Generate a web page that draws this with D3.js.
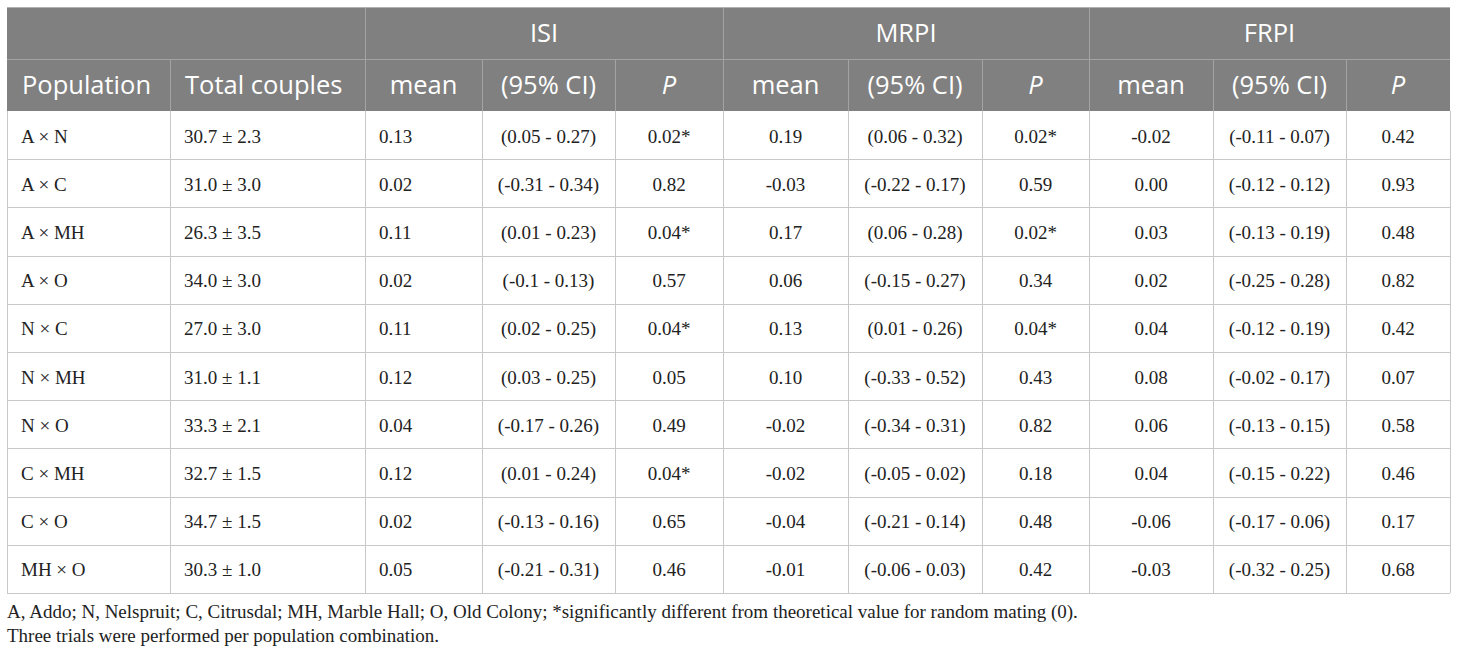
<!DOCTYPE html>
<html>
<head>
<meta charset="utf-8">
<script src="https://cdn.jsdelivr.net/npm/d3@7"></script>
<style>
  body { margin: 0; background: #ffffff; }
  .head { font-family: "Open Sans", sans-serif; fill: #ffffff; font-size: 25.5px; }
  .cell { font-family: "Liberation Serif", "Times New Roman", serif; fill: #222222; font-size: 19px; }
  .note { font-family: "Liberation Serif", "Times New Roman", serif; fill: #222222; font-size: 19px; }
</style>
</head>
<body>
<div id="table"></div>
<script>
var populations = ["A × N", "A × C", "A × MH", "A × O", "N × C", "N × MH", "N × O", "C × MH", "C × O", "MH × O"];
var totals = ["30.7 ± 2.3", "31.0 ± 3.0", "26.3 ± 3.5", "34.0 ± 3.0", "27.0 ± 3.0", "31.0 ± 1.1", "33.3 ± 2.1", "32.7 ± 1.5", "34.7 ± 1.5", "30.3 ± 1.0"];

var isiMean = ["0.13", "0.02", "0.11", "0.02", "0.11", "0.12", "0.04", "0.12", "0.02", "0.05"];
var isiCI = ["(0.05 - 0.27)", "(-0.31 - 0.34)", "(0.01 - 0.23)", "(-0.1 - 0.13)", "(0.02 - 0.25)", "(0.03 - 0.25)", "(-0.17 - 0.26)", "(0.01 - 0.24)", "(-0.13 - 0.16)", "(-0.21 - 0.31)"];
var isiP = ["0.02*", "0.82", "0.04*", "0.57", "0.04*", "0.05", "0.49", "0.04*", "0.65", "0.46"];

var mrpiMean = ["0.19", "-0.03", "0.17", "0.06", "0.13", "0.10", "-0.02", "-0.02", "-0.04", "-0.01"];
var mrpiCI = ["(0.06 - 0.32)", "(-0.22 - 0.17)", "(0.06 - 0.28)", "(-0.15 - 0.27)", "(0.01 - 0.26)", "(-0.33 - 0.52)", "(-0.34 - 0.31)", "(-0.05 - 0.02)", "(-0.21 - 0.14)", "(-0.06 - 0.03)"];
var mrpiP = ["0.02*", "0.59", "0.02*", "0.34", "0.04*", "0.43", "0.82", "0.18", "0.48", "0.42"];

var frpiMean = ["-0.02", "0.00", "0.03", "0.02", "0.04", "0.08", "0.06", "0.04", "-0.06", "-0.03"];
var frpiCI = ["(-0.11 - 0.07)", "(-0.12 - 0.12)", "(-0.13 - 0.19)", "(-0.25 - 0.28)", "(-0.12 - 0.19)", "(-0.02 - 0.17)", "(-0.13 - 0.15)", "(-0.15 - 0.22)", "(-0.17 - 0.06)", "(-0.32 - 0.25)"];
var frpiP = ["0.42", "0.93", "0.48", "0.82", "0.42", "0.07", "0.58", "0.46", "0.17", "0.68"];

var groups = ["ISI", "MRPI", "FRPI"];
var subHeads = ["Population", "Total couples", "mean", "(95% CI)", "P", "mean", "(95% CI)", "P", "mean", "(95% CI)", "P"];
var notes = [
  "A, Addo; N, Nelspruit; C, Citrusdal; MH, Marble Hall; O, Old Colony; *significantly different from theoretical value for random mating (0).",
  "Three trials were performed per population combination."
];

var columns = [populations, totals, isiMean, isiCI, isiP, mrpiMean, mrpiCI, mrpiP, frpiMean, frpiCI, frpiP];

// column edges and alignment (layout only)
var edges = [7, 170, 365, 482, 615, 723, 848, 982, 1089, 1213, 1346, 1450];
var leftAligned = [true, true, true, false, false, false, false, false, false, false, false];

var svgWidth = 1460;
var svgHeight = 655;
var top1 = 7, top2 = 59, top3 = 111, bottom = 593;

var svg = d3.select("#table")
  .append("svg")
  .attr("width", svgWidth)
  .attr("height", svgHeight);

var colIdx = d3.range(columns.length);
var x0 = d3.scaleOrdinal().domain(colIdx).range(edges.slice(0, -1));
var x1 = d3.scaleOrdinal().domain(colIdx).range(edges.slice(1));

var y = d3.scaleBand()
  .domain(populations)
  .range([top3, bottom]);

// header background
svg.append("rect")
  .attr("x", edges[0])
  .attr("y", top1)
  .attr("width", edges[edges.length - 1] - edges[0])
  .attr("height", top3 - top1)
  .attr("fill", "#808080");

// header grid lines
var headLines = svg.append("g")
  .attr("stroke", "#a3a3a3")
  .attr("stroke-width", 1)
  .attr("shape-rendering", "crispEdges");

headLines.append("line")
  .attr("x1", edges[0]).attr("x2", edges[edges.length - 1])
  .attr("y1", top2 + 0.5).attr("y2", top2 + 0.5);

headLines.selectAll("line.v1")
  .data([2, 5, 8])
  .enter()
  .append("line")
  .attr("class", "v1")
  .attr("x1", d => edges[d] + 0.5).attr("x2", d => edges[d] + 0.5)
  .attr("y1", top1).attr("y2", top3);

headLines.selectAll("line.v2")
  .data([1, 3, 4, 6, 7, 9, 10])
  .enter()
  .append("line")
  .attr("class", "v2")
  .attr("x1", d => edges[d] + 0.5).attr("x2", d => edges[d] + 0.5)
  .attr("y1", top2).attr("y2", top3);

// group headers
svg.selectAll("text.group")
  .data(groups)
  .enter()
  .append("text")
  .attr("class", "head group")
  .attr("x", (d, i) => (edges[2 + i * 3] + edges[5 + i * 3]) / 2)
  .attr("y", (top1 + top2) / 2 + 9)
  .attr("text-anchor", "middle")
  .text(d => d);

// sub headers
svg.selectAll("text.sub")
  .data(subHeads)
  .enter()
  .append("text")
  .attr("class", "head sub")
  .attr("x", (d, i) => i < 2 ? x0(i) + 15 : (x0(i) + x1(i)) / 2)
  .attr("y", (top2 + top3) / 2 + 9)
  .attr("text-anchor", (d, i) => i < 2 ? "start" : "middle")
  .style("font-style", d => d === "P" ? "italic" : "normal")
  .text(d => d);

// body grid
var bodyLines = svg.append("g")
  .attr("stroke", "#c8c8c8")
  .attr("stroke-width", 1)
  .attr("shape-rendering", "crispEdges");

bodyLines.selectAll("line.h")
  .data(populations)
  .enter()
  .append("line")
  .attr("class", "h")
  .attr("x1", edges[0]).attr("x2", edges[edges.length - 1])
  .attr("y1", d => Math.round(y(d) + y.bandwidth()) + 0.5)
  .attr("y2", d => Math.round(y(d) + y.bandwidth()) + 0.5);

bodyLines.selectAll("line.v")
  .data(edges)
  .enter()
  .append("line")
  .attr("class", "v")
  .attr("x1", d => d + 0.5).attr("x2", d => d + 0.5)
  .attr("y1", top3).attr("y2", bottom);

// outer border top
svg.append("line")
  .attr("x1", edges[0]).attr("x2", edges[edges.length - 1])
  .attr("y1", top1 + 0.5).attr("y2", top1 + 0.5)
  .attr("stroke", "#b0b0b0")
  .attr("shape-rendering", "crispEdges");

// cells
colIdx.forEach(function(c) {
  svg.selectAll("text.c" + c)
    .data(columns[c])
    .enter()
    .append("text")
    .attr("class", "cell c" + c)
    .attr("x", leftAligned[c] ? x0(c) + 14 : (x0(c) + x1(c)) / 2)
    .attr("y", (d, i) => y(populations[i]) + y.bandwidth() / 2 + 7.5)
    .attr("text-anchor", leftAligned[c] ? "start" : "middle")
    .text(d => d);
});

// footnotes
svg.selectAll("text.note")
  .data(notes)
  .enter()
  .append("text")
  .attr("class", "note")
  .attr("x", edges[0])
  .attr("y", (d, i) => 618 + i * 24)
  .text(d => d);
</script>
</body>
</html>
